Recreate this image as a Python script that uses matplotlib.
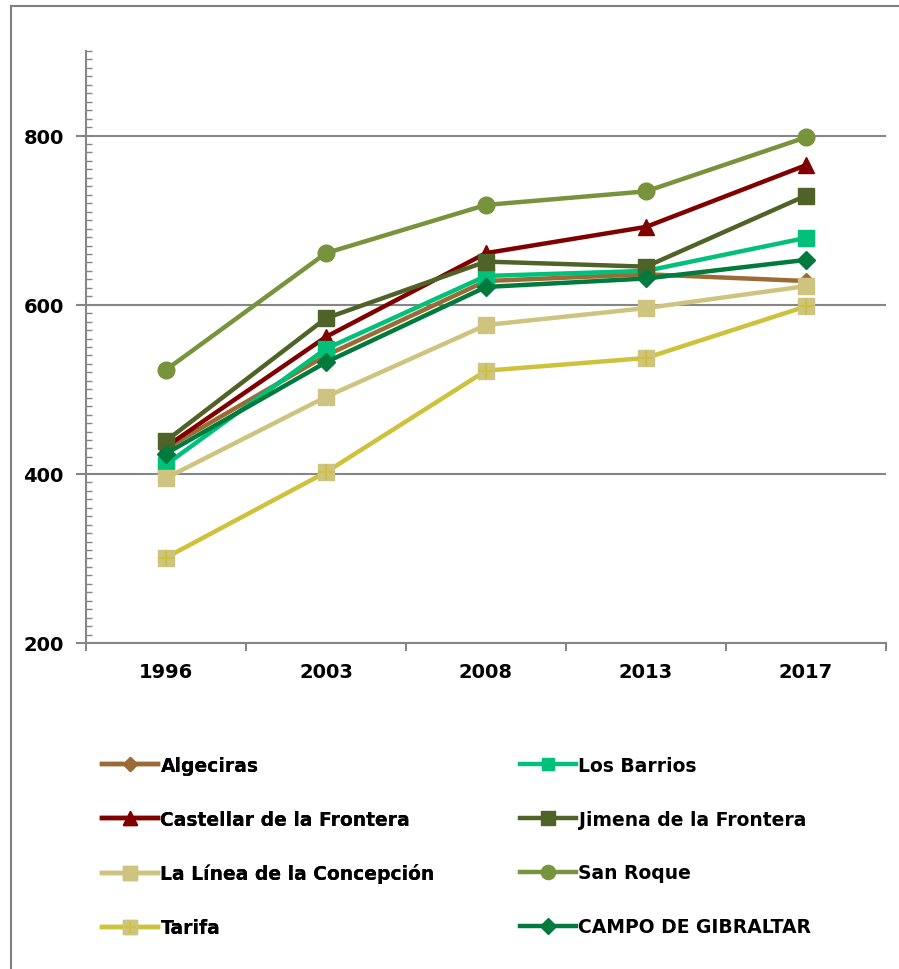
import matplotlib.pyplot as plt
from matplotlib.lines import Line2D
from matplotlib.legend_handler import HandlerTuple
from matplotlib.ticker import MultipleLocator, FixedLocator

# Years (categories)
years = ["1996", "2003", "2008", "2013", "2017"]

# Values
algeciras = [430, 540, 628, 636, 628]
los_barrios = [411, 548, 634, 640, 679]
castellar = [432, 562, 661, 692, 765]
jimena = [439, 584, 651, 645, 729]
la_linea = [395, 491, 576, 596, 622]
san_roque = [523, 661, 718, 734, 798]
tarifa = [301, 402, 522, 537, 598]
campo = [424, 532, 621, 631, 653]

x = list(range(len(years)))

fig = plt.figure(figsize=(8.99, 9.70), dpi=100)
ax = fig.add_axes([86 / 899, 1 - 644 / 970, 800 / 899, 592 / 970])

lw = 3.2
series = {}
series["Algeciras"] = ax.plot(x, algeciras, color="#9C6B35", lw=lw, marker="D", ms=8, zorder=3)[0]
series["Castellar de la Frontera"] = ax.plot(x, castellar, color="#800000", lw=lw, marker="^", ms=12, zorder=4)[0]
series["Los Barrios"] = ax.plot(x, los_barrios, color="#00C07A", lw=lw, marker="s", ms=11, zorder=5)[0]
series["Jimena de la Frontera"] = ax.plot(x, jimena, color="#4F6228", lw=lw, marker="s", ms=12, zorder=6)[0]
series["La Línea de la Concepción"] = ax.plot(x, la_linea, color="#CEC47F", lw=lw, marker="s", ms=12, zorder=7)[0]
tar = ax.plot(x, tarifa, color="#CDC23A", lw=lw, marker="s", ms=12,
              mfc="#CEC47F", mec="#CEC47F", zorder=8)[0]
tar_plus = ax.plot(x, tarifa, ls="none", marker="+", ms=11, mew=1.5,
                   color="#CDC23A", zorder=8.5)[0]
series["Tarifa"] = (tar, tar_plus)
series["San Roque"] = ax.plot(x, san_roque, color="#77933C", lw=lw, marker="o", ms=12, zorder=9)[0]
series["CAMPO DE GIBRALTAR"] = ax.plot(x, campo, color="#007A3D", lw=lw, marker="D", ms=9, zorder=10)[0]

ax.set_xlim(-0.5, 4.5)
ax.set_ylim(200, 900)

gray = "#868686"
ax.yaxis.set_major_locator(FixedLocator([200, 400, 600, 800]))
ax.yaxis.set_minor_locator(MultipleLocator(10))
ax.grid(axis="y", which="major", color=gray, lw=1.5)
ax.set_axisbelow(True)

ax.xaxis.set_major_locator(FixedLocator([-0.5, 0.5, 1.5, 2.5, 3.5, 4.5]))
ax.xaxis.set_minor_locator(FixedLocator(x))
ax.set_xticklabels([], minor=False)
ax.set_xticklabels(years, minor=True, fontsize=14, fontweight="bold")
ax.tick_params(axis="x", which="major", length=6, width=1.5, color=gray, direction="out")
ax.tick_params(axis="x", which="minor", length=0, pad=14)
ax.tick_params(axis="y", which="major", length=7, width=1.5, color=gray, direction="out",
               labelsize=14, pad=9)
ax.tick_params(axis="y", which="minor", length=4, width=1, color=gray, direction="in")
for lab in ax.get_yticklabels():
    lab.set_fontweight("bold")

for s in ["top", "right"]:
    ax.spines[s].set_visible(False)
for s in ["left", "bottom"]:
    ax.spines[s].set_color(gray)
    ax.spines[s].set_linewidth(1.5)

# Legend in two columns, row-wise order
left_names = ["Algeciras", "Castellar de la Frontera", "La Línea de la Concepción", "Tarifa"]
right_names = ["Los Barrios", "Jimena de la Frontera", "San Roque", "CAMPO DE GIBRALTAR"]
leg_kw = dict(frameon=False, handlelength=3.0, handletextpad=0.12, labelspacing=1.85,
              prop={"weight": "bold", "size": 13.5}, borderaxespad=0, borderpad=0,
              markerscale=0.85, handler_map={tuple: HandlerTuple(ndivide=1)})
leg1 = fig.legend([series[n] for n in left_names], left_names,
                  loc="upper left", bbox_to_anchor=(102 / 899, 1 - 757 / 970), **leg_kw)
fig.add_artist(leg1)
fig.legend([series[n] for n in right_names], right_names,
           loc="upper left", bbox_to_anchor=(520 / 899, 1 - 757 / 970), **leg_kw)

# outer chart border
fig.add_artist(Line2D([11 / 899, 11 / 899], [0, 1 - 7 / 970], color="#808080", lw=1.5,
                      transform=fig.transFigure))
fig.add_artist(Line2D([11 / 899, 1], [1 - 7 / 970, 1 - 7 / 970], color="#808080", lw=1.5,
                      transform=fig.transFigure))

fig.savefig("out.png", dpi=100)
